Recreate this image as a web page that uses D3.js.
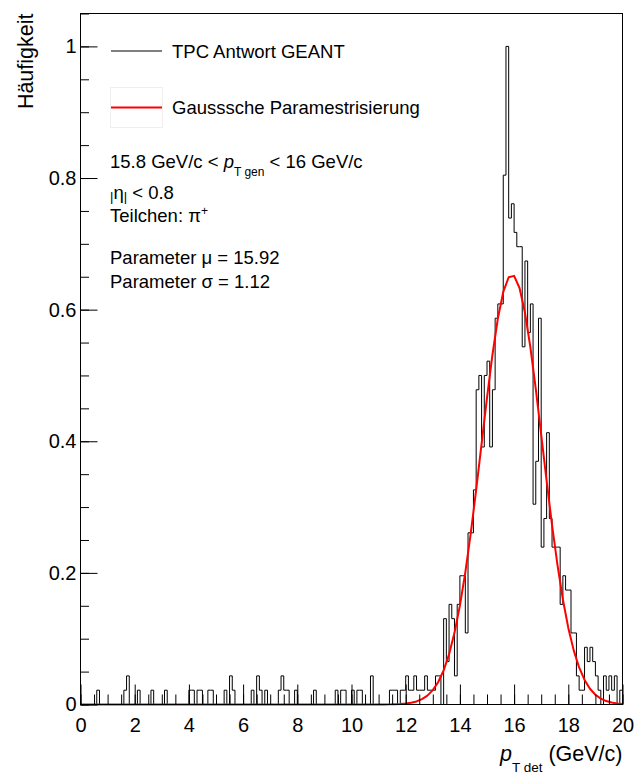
<!DOCTYPE html>
<html><head><meta charset="utf-8">
<script src="https://cdn.jsdelivr.net/npm/d3@7"></script>
<style>
body{margin:0;background:#fff}
svg{display:block}
text{font-family:"Liberation Sans",Arial,Helvetica,sans-serif}
</style>
</head><body>
<svg id="c" width="637" height="774"></svg>
<script>
// ---------------- data ----------------
const xRange = [0, 20];
const yRange = [0, 1.05];
const nBins = 200;
const peakCount = 46; // histogram normalised so that the highest bin is 1
// entries per 0.1 GeV/c bin
const binCounts = [
  0,0,0,0,0,0,1,0,0,0,   0,0,0,0,0,0,1,2,0,0,   0,1,0,0,0,0,1,0,0,0,   0,1,0,0,0,0,0,0,0,0,
  1,1,0,1,1,0,0,1,1,0,   0,0,0,1,0,2,1,0,0,0,   0,0,0,1,0,2,1,0,1,0,   0,0,0,1,2,1,1,0,0,1,
  0,0,0,0,0,0,1,0,0,0,   0,0,0,0,1,0,1,1,0,0,   1,0,1,1,0,0,0,2,0,0,   0,0,0,0,1,1,1,0,1,1,
  2,1,1,2,1,1,1,2,1,1,   1,2,2,0,6,3,7,6,2,7,   9,9,5,12,12,15,22,23,18,23, 24,18,22,27,28,28,37,46,34,35,
  33,32,32,25,31,26,28,14,17,27, 11,13,19,13,11,11,11,7,9,8, 8,5,5,2,1,1,4,3,4,3,  2,1,0,2,1,2,1,2,0,1
];
const xMajorTicks = [0,2,4,6,8,10,12,14,16,18,20];
const xMinorTicks = d3.range(0, 20.001, 0.5);
const yMajorTicks = [0,0.2,0.4,0.6,0.8,1];
const yTickLabels = ["0","0.2","0.4","0.6","0.8","1"];
const yMinorTicks = d3.range(0, 1.0501, 0.05);
const fitMu = 15.92;
const fitSigma = 1.12;
const fitAmplitude = 0.653;
const fitSamples = 100;
const legendLabels = ["TPC Antwort GEANT", "Gausssche Paramestrisierung"];

// ---------------- layout ----------------
const L = 80.5, R = 622.5, T = 13.5, B = 704.5;
const svg = d3.select("#c");
const x = d3.scaleLinear().domain(xRange).range([L, R]);
const y = d3.scaleLinear().domain(yRange).range([B, T]);

// histogram outline
const binW = (xRange[1] - xRange[0]) / nBins;
const pts = [[xRange[0], 0]];
binCounts.forEach((c, i) => {
  const v = c / peakCount;
  pts.push([xRange[0] + i * binW, v]);
  pts.push([xRange[0] + (i + 1) * binW, v]);
});
pts.push([xRange[1], 0]);
const line = d3.line().x(d => x(d[0])).y(d => y(d[1]));
svg.append("path").attr("d", line(pts))
  .attr("fill", "none").attr("stroke", "#000").attr("stroke-width", 1);

// gaussian fit
const fitPts = d3.range(0, fitSamples + 1).map(i => {
  const xv = xRange[0] + i * (xRange[1] - xRange[0]) / fitSamples;
  return [xv, fitAmplitude * Math.exp(-0.5 * Math.pow((xv - fitMu) / fitSigma, 2))];
});
svg.append("path").attr("d", line(fitPts))
  .attr("fill", "none").attr("stroke", "#ff0000").attr("stroke-width", 2)
  .attr("stroke-linejoin", "round");

// axes
const font = '"Liberation Sans",Arial,Helvetica,sans-serif';
const gx = svg.append("g").attr("transform", `translate(0,${B})`)
  .call(d3.axisBottom(x).tickValues(xMajorTicks).tickSize(-20).tickSizeOuter(0)
        .tickPadding(13).tickFormat(d3.format("d")));
gx.select(".domain").remove();
gx.attr("font-size", 20).attr("font-family", font);
gx.selectAll("text").attr("fill", "#000");
gx.selectAll("line").attr("stroke", "#000");
const gxm = svg.append("g").attr("transform", `translate(0,${B})`)
  .call(d3.axisBottom(x).tickValues(xMinorTicks).tickSize(-10).tickSizeOuter(0).tickFormat(""));
gxm.select(".domain").remove();
gxm.selectAll("line").attr("stroke", "#000");

const gy = svg.append("g").attr("transform", `translate(${L},0)`)
  .call(d3.axisLeft(y).tickValues(yMajorTicks).tickSize(-17).tickSizeOuter(0)
        .tickPadding(4).tickFormat((d, i) => yTickLabels[i]));
gy.select(".domain").remove();
gy.attr("font-size", 20).attr("font-family", font);
gy.selectAll("text").attr("fill", "#000");
gy.selectAll("line").attr("stroke", "#000");
const gym = svg.append("g").attr("transform", `translate(${L},0)`)
  .call(d3.axisLeft(y).tickValues(yMinorTicks).tickSize(-8.5).tickSizeOuter(0).tickFormat(""));
gym.select(".domain").remove();
gym.selectAll("line").attr("stroke", "#000");

// frame
svg.append("rect").attr("x", L).attr("y", T).attr("width", R - L).attr("height", B - T)
  .attr("fill", "none").attr("stroke", "#000").attr("stroke-width", 1);

// axis titles
const xt = svg.append("text").attr("x", R).attr("y", 761).attr("text-anchor", "end")
  .attr("font-size", 21.5).attr("fill", "#000");
xt.append("tspan").attr("font-style", "italic").text("p");
xt.append("tspan").attr("font-size", 13.5).attr("dy", 11).text("T det");
xt.append("tspan").attr("dy", -11).text(" (GeV/c)");

svg.append("text").attr("transform", "translate(33,13.5) rotate(-90)")
  .attr("text-anchor", "end").attr("font-size", 21.5).attr("fill", "#000").text("Häufigkeit");

// legend
const lg = svg.append("g").attr("font-size", 18.5).attr("fill", "#000");
lg.append("line").attr("x1", 111).attr("x2", 162).attr("y1", 51).attr("y2", 51)
  .attr("stroke", "#000").attr("stroke-width", 1);
lg.append("text").attr("x", 172).attr("y", 57.5).text(legendLabels[0]);
lg.append("rect").attr("x", 110.5).attr("y", 87.5).attr("width", 52).attr("height", 40)
  .attr("fill", "none").attr("stroke", "#f1eeee").attr("stroke-width", 1);
lg.append("line").attr("x1", 111).attr("x2", 162).attr("y1", 107.5).attr("y2", 107.5)
  .attr("stroke", "#ff0000").attr("stroke-width", 2);
lg.append("text").attr("x", 172).attr("y", 113.5).text(legendLabels[1]);

// info text
const tg = svg.append("g").attr("font-size", 18.5).attr("fill", "#000");
const t1 = tg.append("text").attr("x", 110).attr("y", 168);
t1.append("tspan").text("15.8 GeV/c < ");
t1.append("tspan").attr("font-style", "italic").text("p");
t1.append("tspan").attr("font-size", 12).attr("dy", 8).text("T gen");
t1.append("tspan").attr("dy", -8).text(" < 16 GeV/c");

const t2 = tg.append("text").attr("x", 110).attr("y", 199);
t2.append("tspan").attr("font-size", 13).attr("dy", 2).text("|");
t2.append("tspan").attr("dy", -2).text("η");
t2.append("tspan").attr("font-size", 13).attr("dy", 2).text("|");
t2.append("tspan").attr("dy", -2).text(" < 0.8");

const t3 = tg.append("text").attr("x", 110).attr("y", 221.5);
t3.append("tspan").text("Teilchen: π");
t3.append("tspan").attr("font-size", 12).attr("dy", -7).text("+");

tg.append("text").attr("x", 110).attr("y", 264).text("Parameter μ = 15.92");
tg.append("text").attr("x", 110).attr("y", 287.5).text("Parameter σ = 1.12");
</script>
</body></html>
